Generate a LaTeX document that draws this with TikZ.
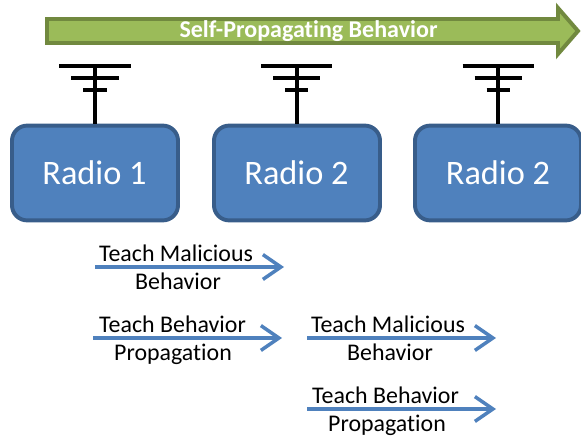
\documentclass[tikz,border=0pt]{standalone}
\usepackage{fontspec}
\setmainfont{Carlito}[Ligatures=NoCommon]
\usetikzlibrary{shapes,arrows.meta,positioning}

\begin{document}
\begin{tikzpicture}[
    x=0.025cm, y=-0.025cm,
    radio/.style={rectangle, draw=radioedge, fill=radiofill, line width=2.8pt, rounded corners=0.38cm, minimum width=4.15cm, minimum height=2.37cm},
    radioname/.style={anchor=base, text=white, inner sep=0pt, font=\fontsize{24.4}{28}\selectfont},
    banner/.style={draw=banneredge, fill=bannerfill, line width=2.8pt, miter limit=10},
    bannertext/.style={anchor=base, text=white, inner sep=0pt, font=\fontsize{17.1}{20}\bfseries\selectfont},
    mast/.style={line width=2.5pt, black},
    teach/.style={line width=2.5pt, radiofill, -{Straight Barb[length=0.45cm, width=0.62cm, line width=2.5pt]}},
    label/.style={anchor=base, inner sep=0pt, font=\fontsize{17}{20}\selectfont}
]
\definecolor{radiofill}{HTML}{4F81BD}
\definecolor{radioedge}{HTML}{385D8A}
\definecolor{bannerfill}{HTML}{9BBB59}
\definecolor{banneredge}{HTML}{71893F}
\useasboundingbox (0,0) rectangle (581,439);

% Banner arrow across the top
\draw[banner] (47,19) -- (558,19) -- (558,8) -- (578,31) -- (558,54) -- (558,43) -- (47,43) -- cycle;
\node[bannertext] (bannerlabel) at (308.5,38) {Self-Propagating Behavior};

% Radios
\node[radio] (radio1) at (95,173) {};
\node[radio] (radio2) at (297,173) {};
\node[radio] (radio3) at (498,173) {};
\node[radioname] (name1) at (94.5,185) {Radio 1};
\node[radioname] (name2) at (296.5,185) {Radio 2};
\node[radioname] (name3) at (498,185) {Radio 2};

% Antennas
\coordinate (top1) at (95,66);
\coordinate (top2) at (297,66);
\coordinate (top3) at (498,66);
\draw[mast] (radio1.north) -- (top1);
\draw[mast] (radio2.north) -- (top2);
\draw[mast] (radio3.north) -- (top3);
\draw[mast] (59,66) -- (130.5,66) (71,78) -- (118.5,78) (83,90) -- (106.5,90);
\draw[mast] (261,66) -- (332,66) (273,78) -- (320,78) (285,90) -- (308,90);
\draw[mast] (462.5,66) -- (534,66) (474.5,78) -- (522,78) (486.5,90) -- (510,90);

% Arrow ends
\coordinate (a1) at (95,267);
\coordinate (b1) at (284,267);
\coordinate (a2) at (93,338);
\coordinate (b2) at (282,338);
\coordinate (a3) at (307,338);
\coordinate (b3) at (496,338);
\coordinate (a4) at (307,409);
\coordinate (b4) at (496,409);

% Teaching arrows
\draw[teach] (a1) -- (b1);
\draw[teach] (a2) -- (b2);
\draw[teach] (a3) -- (b3);
\draw[teach] (a4) -- (b4);

% Arrow labels
\node[label] (up1) at (176,262) {Teach Malicious};
\node[label] (down1) at (178,290) {Behavior};
\node[label] (up2) at (172.5,333) {Teach Behavior};
\node[label] (down2) at (173,361) {Propagation};
\node[label] (up3) at (388,333) {Teach Malicious};
\node[label] (down3) at (390,361) {Behavior};
\node[label] (up4) at (385.5,404) {Teach Behavior};
\node[label] (down4) at (387,432) {Propagation};

\end{tikzpicture}
\end{document}
